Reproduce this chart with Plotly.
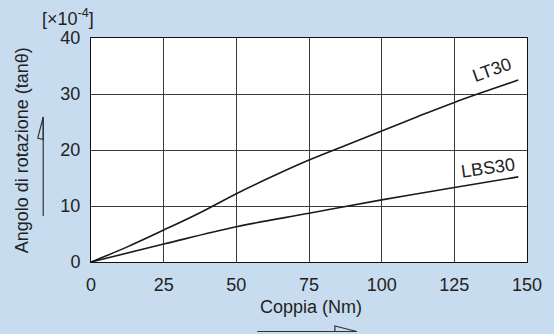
import plotly.graph_objects as go

# Data
torque_lt30 = [0, 12.5, 25, 37.5, 50, 62.5, 75, 87.5, 100, 112.5, 125, 137.5, 147]
angle_lt30 = [0, 2.7, 5.7, 8.8, 12.2, 15.3, 18.2, 20.8, 23.4, 26.0, 28.5, 30.8, 32.5]
torque_lbs30 = [0, 25, 50, 75, 100, 125, 147]
angle_lbs30 = [0, 3.2, 6.3, 8.7, 11.1, 13.3, 15.2]
x_ticks = [0, 25, 50, 75, 100, 125, 150]
y_ticks = [0, 10, 20, 30, 40]

BG = "#c8dcf0"
FONT = "Liberation Sans, Arial, sans-serif"
FS = 18

fig = go.Figure()
fig.add_trace(go.Scatter(x=torque_lt30, y=angle_lt30, mode="lines",
                         line=dict(color="#1a1a1a", width=1.6, shape="spline"),
                         name="LT30", showlegend=False))
fig.add_trace(go.Scatter(x=torque_lbs30, y=angle_lbs30, mode="lines",
                         line=dict(color="#1a1a1a", width=1.6, shape="spline"),
                         name="LBS30", showlegend=False))

def px(X):
    return (X - 91) / 438.0

def py(Y):
    return (262 - Y) / 224.0

shapes = [
    # horizontal arrow under x title
    dict(type="line", xref="paper", yref="paper", x0=px(258), x1=px(358), y0=py(331.5), y1=py(331.5),
         line=dict(color="#333", width=1.2)),
    dict(type="path", xref="paper", yref="paper",
         path=f"M {px(336)} {py(326)} L {px(336)} {py(331.5)} L {px(358)} {py(331.5)} Z",
         line=dict(color="#333", width=1.2)),
    # vertical arrow beside y title
    dict(type="line", xref="paper", yref="paper", x0=px(43), x1=px(43), y0=py(216), y1=py(117),
         line=dict(color="#333", width=1.2)),
    dict(type="path", xref="paper", yref="paper",
         path=f"M {px(43)} {py(117)} L {px(37.5)} {py(138)} L {px(43)} {py(139.5)} Z",
         line=dict(color="#333", width=1.2)),
]

def ann(text, x, y, xref="paper", yref="paper", angle=0):
    return dict(text=text, x=x, y=y, xref=xref, yref=yref, showarrow=False, textangle=angle,
                xanchor="center", yanchor="middle",
                font=dict(size=FS, color="#222", family=FONT))

annotations = [
    ann("LT30", 137.8, 34.3, "x", "y", -20),
    ann("LBS30", 136.5, 16.8, "x", "y", -8),
    ann("Angolo di rotazione (tanθ)", px(22), py(150), angle=-90),
    ann("Coppia (Nm)", px(312), py(307)),
    ann("[×10<sup>-4</sup>]", px(68), py(17)),
]

fig.update_layout(
    width=554, height=334,
    margin=dict(l=91, r=25, t=38, b=72),
    paper_bgcolor=BG, plot_bgcolor="white",
    font=dict(family=FONT, size=FS, color="#222"),
    shapes=shapes, annotations=annotations,
    xaxis=dict(range=[0, 150], tickvals=x_ticks, showgrid=True, gridcolor="#3a3a3a", gridwidth=1,
               zeroline=False, showline=True, linecolor="#111", linewidth=1, mirror=True,
               ticks="", ticklabelstandoff=6, tickfont=dict(size=FS, color="#222"), fixedrange=True),
    yaxis=dict(range=[0, 40], tickvals=y_ticks, showgrid=True, gridcolor="#3a3a3a", gridwidth=1,
               zeroline=False, showline=True, linecolor="#111", linewidth=1, mirror=True,
               ticks="", ticklabelstandoff=6, tickfont=dict(size=FS, color="#222"), fixedrange=True),
)

fig.write_html("out.html", post_script="document.body.style.margin='0';document.body.style.overflow='hidden';",
               config={"displayModeBar": False})
